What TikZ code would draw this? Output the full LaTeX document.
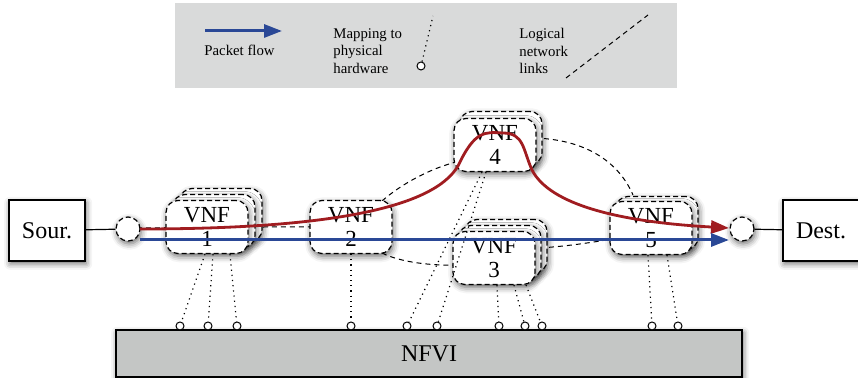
\documentclass[tikz,border=0pt]{standalone}
\usepackage{fontspec}
\setmainfont{Liberation Serif}
\usetikzlibrary{arrows.meta,shadows.blur,calc}
\definecolor{flowred}{RGB}{160,28,32}
\definecolor{flowblue}{RGB}{42,72,150}
\definecolor{legendgray}{RGB}{217,218,218}
\definecolor{nfvigray}{RGB}{196,198,197}
\begin{document}
\begin{tikzpicture}[x=0.5pt,y=-0.5pt,
  shad/.style={blur shadow={shadow xshift=0.6pt,shadow yshift=-1.4pt,shadow blur radius=3pt,shadow opacity=60}},
  vnf/.style={draw,dash pattern=on 2.5pt off 1.5pt,line width=0.6pt,fill=white,rounded corners=6pt,
    minimum width=41pt,minimum height=26.5pt,inner sep=0pt,align=center,
    font=\fontsize{11.5}{12}\selectfont,shad},
  endbox/.style={draw,line width=0.6pt,fill=white,minimum width=38pt,minimum height=30.5pt,
    inner sep=0pt,font=\fontsize{12}{14}\selectfont,shad},
  port/.style={circle,draw,dash pattern=on 2.5pt off 1.5pt,line width=0.6pt,fill=white,
    minimum size=12pt,inner sep=0pt,shad},
  hw/.style={circle,draw,line width=0.5pt,fill=white,minimum size=4pt,inner sep=0pt},
  mapline/.style={dotted,line width=0.6pt},
  link/.style={dash pattern=on 2.5pt off 2pt,line width=0.5pt},
  redflow/.style={draw=flowred,line width=1.4pt,-{Triangle[length=9pt,width=6.5pt]}},
  blueflow/.style={draw=flowblue,line width=1.5pt,-{Triangle[length=9pt,width=6.5pt]}},
  legtext/.style={font=\fontsize{7.4}{8.6}\selectfont,align=left,inner sep=0pt,anchor=west}
]
\useasboundingbox (0,0) rectangle (858,378);

% ---------- legend ----------
\node[fill=legendgray,minimum width=251pt,minimum height=42.5pt,inner sep=0pt] (legend) at (426,45.5) {};
\coordinate (la) at (205,31);
\coordinate (lb) at (282,31);
\draw[blueflow] (la) -- (lb);
\node[legtext] (lpf) at (204,50) {Packet flow};
\node[legtext] (lmap) at (333,51) {Mapping to\\physical\\hardware};
\node[hw] (lcirc) at (421,66) {};
\coordinate (lmt) at (433,16);
\draw[mapline] (lcirc) -- (lmt);
\node[legtext] (llog) at (519,51) {Logical\\network\\links};
\coordinate (lla) at (566,78);
\coordinate (llb) at (648,15);
\draw[link] (lla) -- (llb);

% ---------- NFVI ----------
\node[draw,line width=0.6pt,fill=nfvigray,minimum width=313pt,minimum height=23.5pt,inner sep=0pt,
  font=\fontsize{12}{14}\selectfont,shad] (nfvi) at (429,353.5) {NFVI};

% ---------- logical links (behind nodes) ----------
\coordinate (sc0) at (128,228);
\coordinate (v1r) at (265,227);
\coordinate (v2l) at (352,227);
\draw[link] (sc0) -- (v1r) -- (v2l);
\coordinate (l24a) at (382,201);
\coordinate (l24b) at (460,161);
\draw[link] (l24a) .. controls (400,185) and (430,168) .. (l24b);
\coordinate (l23a) at (382,253);
\coordinate (l23b) at (460,265);
\draw[link] (l23a) .. controls (400,262) and (430,266) .. (l23b);
\coordinate (l45a) at (535,138);
\coordinate (l45b) at (633,195);
\draw[link] (l45a) .. controls (590,140) and (620,165) .. (l45b);
\coordinate (l35a) at (540,248);
\coordinate (l35b) at (618,238);
\draw[link] (l35a) .. controls (570,246) and (595,242) .. (l35b);

% ---------- end points ----------
\node[endbox] (src) at (47,230.5) {Sour.};
\node[endbox] (dst) at (821,230.5) {Dest.};
\node[port] (sc) at (128,229) {};
\node[port] (dc) at (742,229) {};
\draw[line width=0.6pt] (src) -- (sc);
\draw[line width=0.6pt] (dc) -- (dst);

% ---------- VNFs ----------
\node[vnf] (v1c) at (221,215) {};
\node[vnf] (v1b) at (214,221) {};
\node[vnf] (v1) at (207,227) {VNF\\1};
\node[vnf] (v2) at (351,227) {VNF\\2};
\node[vnf] (v4b) at (501,138) {};
\node[vnf] (v4) at (495,145) {VNF\\4};
\node[vnf] (v3c) at (506,246) {};
\node[vnf] (v3b) at (500,252) {};
\node[vnf] (v3) at (494,258) {VNF\\3};
\node[vnf] (v5b) at (657,223) {};
\node[vnf] (v5) at (651,228) {VNF\\5};

% ---------- hardware ports ----------
\foreach \n/\x in {h1/180,h2/208,h3/237,h4/351,h5/407,h6/437,h7/499,h8/525,h9/542,h10/652,h11/678}
  \node[hw] (\n) at (\x,326) {};

% ---------- mapping lines ----------
\draw[mapline] ($(v1.south)+(-2,0)$) -- (h1);
\draw[mapline] ($(v1.south)+(6,0)$) -- (h2);
\draw[mapline] ($(v1.south)+(23,0)$) -- (h3);
\draw[mapline] (v2.south) -- (h4);
\draw[mapline] ($(v4.south)+(-13,0)$) -- (h5);
\draw[mapline] ($(v4.south)+(-9,0)$) -- (h6);
\draw[mapline] ($(v3.south)+(3,0)$) -- (h7);
\draw[mapline] ($(v3.south)+(20,0)$) -- (h8);
\draw[mapline] ($(v3.south)+(32,0)$) -- (h9);
\draw[mapline] ($(v5.south)+(-3,0)$) -- (h10);
\draw[mapline] ($(v5.south)+(16,0)$) -- (h11);

% ---------- packet flows ----------
\coordinate (rs) at (140,229);
\coordinate (re) at (729,228);
\draw[redflow] (rs) .. controls (320,229) and (432,210) .. (458,166)
  .. controls (475,130) and (485,132) .. (503,133)
  .. controls (524,133) and (523,150) .. (532,170)
  .. controls (550,205) and (620,222) .. (re);
\coordinate (bs) at (140,240);
\coordinate (be) at (729,240);
\draw[blueflow] (bs) -- (be);
\end{tikzpicture}
\end{document}
